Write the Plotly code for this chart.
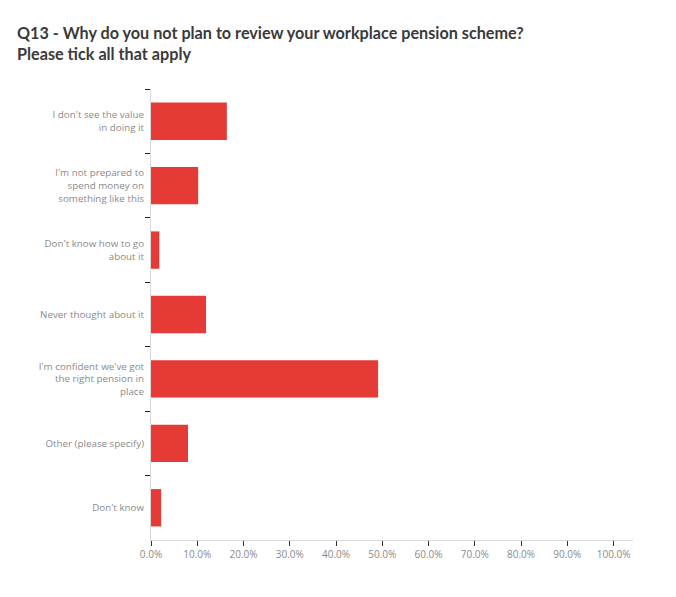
import plotly.graph_objects as go

categories = [
    "I don't see the value<br>in doing it",
    "I'm not prepared to<br>spend money on<br>something like this",
    "Don't know how to go<br>about it",
    "Never thought about it",
    "I'm confident we've got<br>the right pension in<br>place",
    "Other (please specify)",
    "Don't know",
]
share = [16.4, 10.2, 1.8, 11.9, 49.1, 8.0, 2.2]
x_ticks = list(range(0, 101, 10))
x_labels = [f"{v:.1f}%" for v in x_ticks]

fig = go.Figure(go.Bar(
    x=share,
    y=categories,
    orientation="h",
    marker=dict(color="#e53a36", line=dict(width=0)),
))

# page body adds 8px, so margins are shifted by that
fig.update_layout(
    width=676, height=597,
    margin=dict(l=143, r=51, t=81, b=65),
    paper_bgcolor="white",
    plot_bgcolor="white",
    bargap=0.42,
    showlegend=False,
    title=dict(
        text="Q13 - Why do you not plan to review your workplace pension scheme?<br>Please tick all that apply",
        xref="container", x=9 / 676, xanchor="left",
        yref="container", y=1 - 31 / 597, yanchor="top",
        font=dict(family="Lato", size=16.2, color="#3a3a3a", weight="bold"),
    ),
)

fig.update_xaxes(
    range=[0, 104.2],
    tickvals=x_ticks, ticktext=x_labels,
    showgrid=False, zeroline=False,
    showline=True, linecolor="#d8d8d8", linewidth=1,
    ticks="outside", ticklen=5, tickcolor="#333", tickwidth=1,
    tickfont=dict(family="Open Sans", size=10, color="#8a8a8a"),
)

fig.update_yaxes(
    autorange="reversed",
    tickson="boundaries",
    showgrid=False, zeroline=False,
    showline=True, linecolor="#d8d8d8", linewidth=1,
    ticks="outside", ticklen=5, tickcolor="#222", tickwidth=1,
    ticklabelstandoff=4,
    tickfont=dict(family="Open Sans", size=9.8, color="#8a8a8a"),
)

fig.write_html("out.html")
